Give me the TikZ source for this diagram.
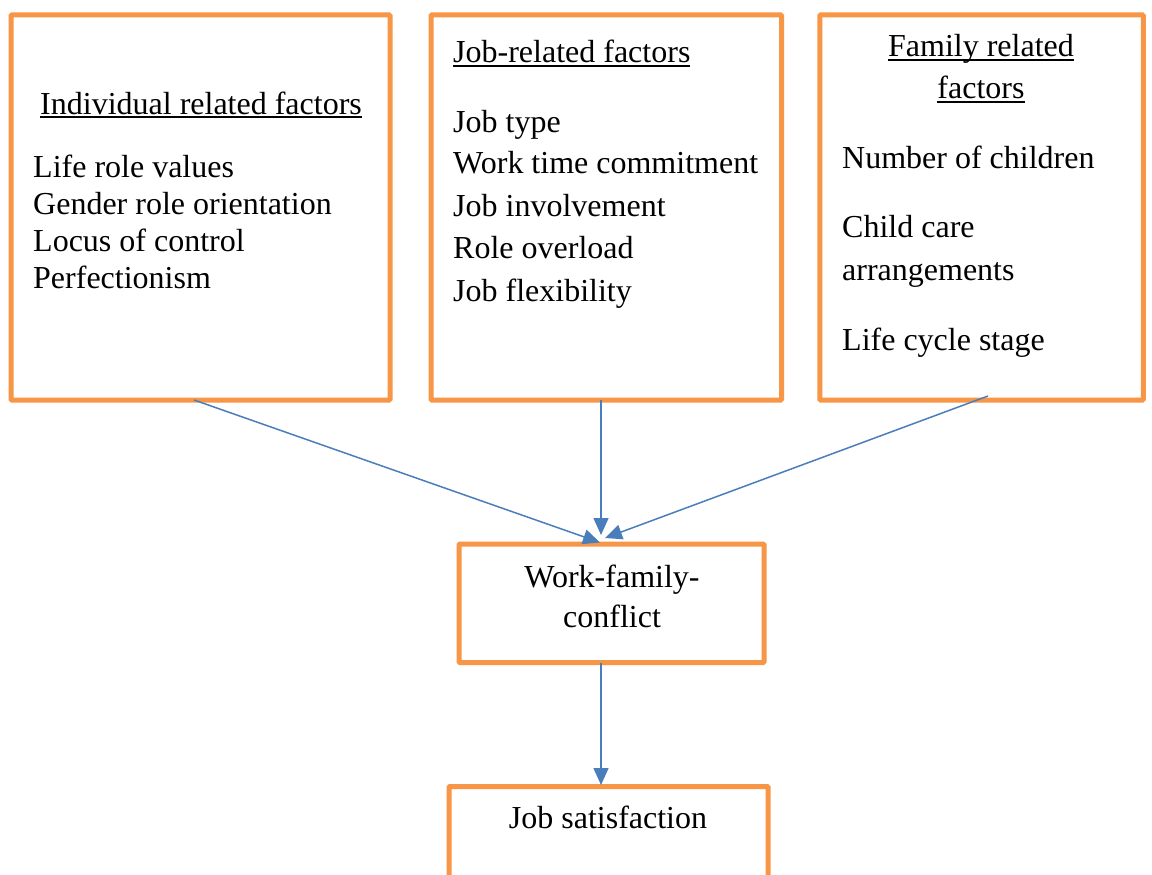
\documentclass[tikz,border=0pt]{standalone}
\usepackage{fontspec}
\setmainfont{Liberation Serif}
\usetikzlibrary{arrows.meta}
\definecolor{boxorange}{HTML}{F79646}
\definecolor{linkblue}{HTML}{4A7EBB}
% underline at a fixed depth below the baseline
\newcommand\headul[1]{\setbox0\hbox{#1}\rlap{\rule[-4pt]{\wd0}{1.6pt}}\box0}
\begin{document}
\begin{tikzpicture}[x=1pt,y=-1pt,
  box/.style={draw=boxorange,line width=5pt,rounded corners=1pt,inner sep=0pt},
  txt/.style={inner sep=0pt,anchor=base west,font=\fontsize{32}{37}\selectfont},
  ctxt/.style={txt,anchor=base},
  link/.style={draw=linkblue,line width=1.5pt,-{Triangle[length=17pt,width=15pt]}}]
\clip (0,0) rectangle (1152,875);
\fill[white] (0,0) rectangle (1152,875);

% factor boxes
\node[box,minimum width=379,minimum height=385] (ind) at (200.5,207.5) {};
\node[box,minimum width=350.5,minimum height=385] (job) at (606.25,207.5) {};
\node[box,minimum width=323.5,minimum height=385] (fam) at (981.5,207.5) {};
% outcome boxes
\node[box,minimum width=305,minimum height=118.5] (wfc) at (611.5,603.25) {};
\node[box,minimum width=319,minimum height=120] (sat) at (608.5,846.5) {};

% individual related factors
\node[txt] (ind-h) at (40,114) {\headul{Individual related factors}};
\node[txt] (ind-1) at (33,177) {Life role values};
\node[txt] (ind-2) at (33,214) {Gender role orientation};
\node[txt] (ind-3) at (33,251) {Locus of control};
\node[txt] (ind-4) at (33,288) {Perfectionism};

% job-related factors
\node[txt] (job-h) at (453,63) {\headul{Job-related factors}};
\node[txt] (job-1) at (453,132) {Job type};
\node[txt] (job-2) at (453,173) {Work time commitment};
\node[txt] (job-3) at (453,216) {Job involvement};
\node[txt] (job-4) at (453,258) {Role overload};
\node[txt] (job-5) at (453,301) {Job flexibility};

% family related factors
\node[ctxt] (fam-h1) at (981,57) {\headul{Family related}};
\node[ctxt] (fam-h2) at (981,99) {\headul{factors}};
\node[txt] (fam-1) at (842,168) {Number of children};
\node[txt] (fam-2) at (842,237) {Child care};
\node[txt] (fam-3) at (842,280) {arrangements};
\node[txt] (fam-4) at (842,350) {Life cycle stage};

% outcomes
\node[ctxt] (wfc-1) at (612,587) {Work-family-};
\node[ctxt] (wfc-2) at (612,627) {conflict};
\node[ctxt] (sat-1) at (608,828) {Job satisfaction};

% connector end points
\coordinate (ind-out) at (194,400);
\coordinate (job-out) at (601,400);
\coordinate (fam-out) at (988,396);
\coordinate (wfc-in1) at (600,542.5);
\coordinate (wfc-in2) at (601,535);
\coordinate (wfc-in3) at (605,538);
\coordinate (wfc-out) at (601,662.5);
\coordinate (sat-in) at (601,785);

\draw[link] (ind-out) -- (wfc-in1);
\draw[link] (job-out) -- (wfc-in2);
\draw[link] (fam-out) -- (wfc-in3);
\draw[link] (wfc-out) -- (sat-in);
\end{tikzpicture}
\end{document}
